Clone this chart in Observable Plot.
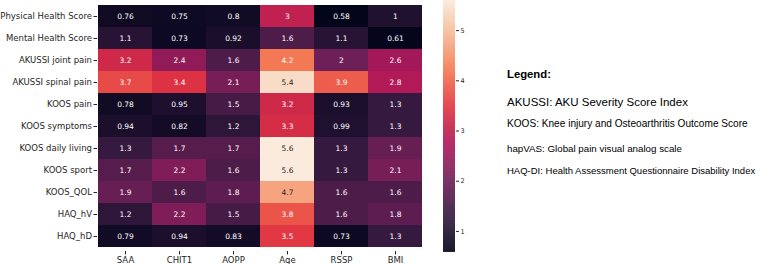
<!DOCTYPE html>
<html>
<head>
<meta charset="utf-8">
<script src="https://cdn.jsdelivr.net/npm/d3@7"></script>
<script src="https://cdn.jsdelivr.net/npm/@observablehq/plot@0.6"></script>
<style>
  html, body { margin: 0; padding: 0; background: #fff; }
  #wrap { position: relative; width: 778px; height: 264px; overflow: hidden; }
  #wrap > div.abs { position: absolute; }
  .leg { position: absolute; left: 507px; font-family: "Liberation Sans", Arial, sans-serif; color: #000; white-space: nowrap; line-height: 1; }
</style>
</head>
<body>
<div id="wrap"></div>
<script>
const rows = ["Physical Health Score", "Mental Health Score", "AKUSSI joint pain", "AKUSSI spinal pain",
  "KOOS pain", "KOOS symptoms", "KOOS daily living", "KOOS sport", "KOOS_QOL", "HAQ_hV", "HAQ_hD"];
const cols = ["SAA", "CHIT1", "AOPP", "Age", "RSSP", "BMI"];

const SAA   = [0.76, 1.1, 3.2, 3.7, 0.78, 0.94, 1.3, 1.7, 1.9, 1.2, 0.79];
const CHIT1 = [0.75, 0.73, 2.4, 3.4, 0.95, 0.82, 1.7, 2.2, 1.6, 2.2, 0.94];
const AOPP  = [0.8, 0.92, 1.6, 2.1, 1.5, 1.2, 1.7, 1.6, 1.8, 1.5, 0.83];
const Age   = [3, 1.6, 4.2, 5.4, 3.2, 3.3, 5.6, 5.6, 4.7, 3.8, 3.5];
const RSSP  = [0.58, 1.1, 2, 3.9, 0.93, 0.99, 1.3, 1.3, 1.6, 1.6, 0.73];
const BMI   = [1, 0.61, 2.6, 2.8, 1.3, 1.3, 1.9, 2.1, 1.6, 1.8, 1.3];

const cbTicks = [1, 2, 3, 4, 5];

const legendTitle = "Legend:";
const legendLines = [
  "AKUSSI: AKU Severity Score Index",
  "KOOS: Knee injury and Osteoarthritis Outcome Score",
  "hapVAS: Global pain visual analog scale",
  "HAQ-DI: Health Assessment Questionnaire Disability Index"
];

// seaborn "rocket" colormap stops
const rocketStops = ["#03051a", "#35193e", "#701f57", "#ad1759", "#e13342", "#f37651", "#f6b48f", "#faebdd"];
const rocket = d3.piecewise(d3.interpolateRgb, rocketStops);

const series = {SAA, CHIT1, AOPP, Age, RSSP, BMI};
const table = [];
cols.forEach(c => rows.forEach((r, i) => table.push({col: c, row: r, value: series[c][i]})));
const extent = d3.extent(table, d => d.value);

const colorOpts = {type: "linear", domain: extent, interpolate: rocket};

function lum(c) {
  const {r, g, b} = d3.rgb(c);
  const f = v => { v /= 255; return v <= 0.03928 ? v / 12.92 : Math.pow((v + 0.055) / 1.055, 2.4); };
  return 0.2126 * f(r) + 0.7152 * f(g) + 0.0722 * f(b);
}
const tcolor = d => lum(rocket((d.value - extent[0]) / (extent[1] - extent[0]))) > 0.408 ? "#262626" : "#ffffff";

const heat = Plot.plot({
  width: 778,
  height: 264,
  marginLeft: 97,
  marginRight: 355,
  marginTop: 0,
  marginBottom: 13,
  style: {fontFamily: "DejaVu Sans", fontSize: "8.5px", color: "#262626", background: "transparent"},
  x: {domain: cols, padding: 0, label: null, tickSize: 3.5, tickPadding: 1.5},
  y: {domain: rows, padding: 0, label: null, tickSize: 3.5, tickPadding: 2},
  color: colorOpts,
  marks: [
    Plot.cell(table, {x: "col", y: "row", fill: "value", inset: 0}),
    Plot.text(table, {x: "col", y: "row", text: d => String(d.value), fill: tcolor, fontSize: 7.5, fontFamily: "DejaVu Sans"})
  ]
});

const step = 0.01;
const grad = d3.range(extent[0], extent[1], step).map(v => ({v0: v, v1: Math.min(v + step * 1.5, extent[1]), v}));

const cbar = Plot.plot({
  width: 50,
  height: 264,
  marginLeft: 13,
  marginRight: 25,
  marginTop: 0,
  marginBottom: 12,
  style: {fontFamily: "DejaVu Sans", fontSize: "6.5px", color: "#262626", background: "transparent"},
  x: {domain: [0, 1], axis: null},
  y: {domain: extent, axis: "right", ticks: cbTicks, tickFormat: d => String(d), label: null, tickSize: 3, tickPadding: 2},
  color: colorOpts,
  marks: [
    Plot.rectY(grad, {x1: 0, x2: 1, y1: "v0", y2: "v1", fill: "v"})
  ]
});

const wrap = document.getElementById("wrap");
const d1 = document.createElement("div"); d1.className = "abs"; d1.style.left = "0px"; d1.style.top = "0px"; d1.appendChild(heat);
const d2 = document.createElement("div"); d2.className = "abs"; d2.style.left = "430px"; d2.style.top = "0px"; d2.appendChild(cbar);
wrap.appendChild(d1); wrap.appendChild(d2);

const legSpecs = [
  {text: legendTitle, size: 11.3, base: 79, bold: true},
  {text: legendLines[0], size: 11.5, base: 106.5},
  {text: legendLines[1], size: 10.1, base: 128},
  {text: legendLines[2], size: 9.75, base: 152},
  {text: legendLines[3], size: 9.5, base: 174}
];
legSpecs.forEach(s => {
  const e = document.createElement("div");
  e.className = "leg";
  e.textContent = s.text;
  e.style.fontSize = s.size + "px";
  e.style.fontWeight = s.bold ? "bold" : "normal";
  e.style.top = (s.base - 0.8465 * s.size) + "px";
  wrap.appendChild(e);
});
</script>
</body>
</html>
